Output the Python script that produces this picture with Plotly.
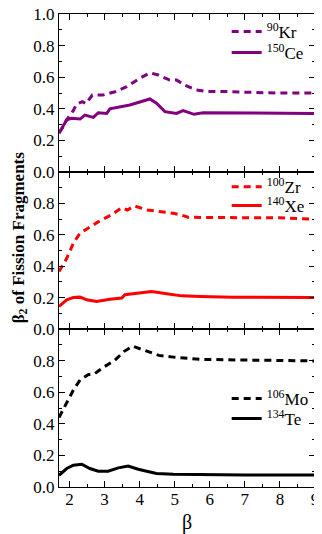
import plotly.graph_objects as go

# ---- data ----
kr_x = [1.7, 1.8, 1.92, 2.0, 2.11, 2.2, 2.37, 2.47, 2.65, 2.95, 3.3, 3.63, 4.0, 4.3, 4.53, 4.86, 5.05, 5.3, 5.6, 5.9, 6.5, 7.0, 8.0, 9.0]
kr_y = [0.25, 0.28, 0.33, 0.355, 0.39, 0.43, 0.445, 0.432, 0.487, 0.487, 0.508, 0.54, 0.593, 0.628, 0.614, 0.582, 0.582, 0.548, 0.52, 0.51, 0.51, 0.505, 0.50, 0.50]
ce_x = [1.7, 1.8, 1.92, 2.06, 2.3, 2.44, 2.68, 2.82, 3.06, 3.15, 3.44, 3.72, 4.29, 4.48, 4.72, 5.05, 5.24, 5.55, 5.81, 7.0, 9.0]
ce_y = [0.245, 0.28, 0.33, 0.34, 0.335, 0.36, 0.346, 0.375, 0.37, 0.40, 0.41, 0.424, 0.462, 0.435, 0.382, 0.371, 0.388, 0.365, 0.375, 0.372, 0.37]
zr_x = [1.7, 1.92, 2.11, 2.3, 2.55, 2.87, 3.22, 3.48, 3.65, 3.85, 4.22, 4.6, 4.96, 5.2, 5.38, 6.0, 7.0, 8.0, 9.0]
zr_y = [0.366, 0.45, 0.547, 0.61, 0.645, 0.69, 0.73, 0.772, 0.758, 0.784, 0.758, 0.748, 0.737, 0.725, 0.712, 0.71, 0.71, 0.708, 0.70]
xe_x = [1.7, 1.92, 2.11, 2.3, 2.49, 2.77, 3.15, 3.49, 3.58, 4.01, 4.34, 4.77, 5.2, 5.72, 6.66, 9.0]
xe_y = [0.144, 0.186, 0.2, 0.203, 0.186, 0.176, 0.19, 0.197, 0.218, 0.229, 0.239, 0.224, 0.211, 0.207, 0.203, 0.2]
mo_x = [1.7, 1.92, 2.11, 2.3, 2.54, 2.7, 2.96, 3.28, 3.55, 3.8, 4.2, 4.55, 4.96, 5.32, 5.72, 6.5, 7.5, 9.0]
mo_y = [0.44, 0.53, 0.614, 0.677, 0.712, 0.714, 0.757, 0.8, 0.857, 0.891, 0.86, 0.833, 0.822, 0.815, 0.808, 0.805, 0.802, 0.798]
te_x = [1.7, 1.92, 2.11, 2.35, 2.58, 2.82, 3.1, 3.39, 3.67, 3.96, 4.2, 4.48, 4.96, 5.72, 7.0, 9.0]
te_y = [0.074, 0.117, 0.138, 0.144, 0.117, 0.1, 0.1, 0.121, 0.133, 0.112, 0.1, 0.085, 0.081, 0.079, 0.076, 0.076]

x_ticks = [2, 3, 4, 5, 6, 7, 8, 9]
y_ticks_top = [0.0, 0.2, 0.4, 0.6, 0.8, 1.0]
y_ticks_low = [0.0, 0.2, 0.4, 0.6, 0.8]

PURPLE = "#800080"
RED = "#FF0000"
BLACK = "#000000"
FONT = "Times New Roman, Liberation Serif, serif"
DASH = "7px,5px"

series = [
    ("<sup>90</sup>Kr", kr_x, kr_y, PURPLE, DASH, "x", "y", "legend"),
    ("<sup>150</sup>Ce", ce_x, ce_y, PURPLE, "solid", "x", "y", "legend2"),
    ("<sup>100</sup>Zr", zr_x, zr_y, RED, DASH, "x2", "y2", "legend3"),
    ("<sup>140</sup>Xe", xe_x, xe_y, RED, "solid", "x2", "y2", "legend4"),
    ("<sup>106</sup>Mo", mo_x, mo_y, BLACK, DASH, "x3", "y3", "legend5"),
    ("<sup>134</sup>Te", te_x, te_y, BLACK, "solid", "x3", "y3", "legend6"),
]

fig = go.Figure()
for name, xs, ys, col, dash, xa, ya, lg in series:
    fig.add_trace(go.Scatter(x=xs, y=ys, mode="lines", name=name, showlegend=True,
                             line=dict(color=col, width=3, dash=dash),
                             xaxis=xa, yaxis=ya, legend=lg))

H = 473.0
dom3 = [0, 158 / H]
dom2 = [158 / H, 315 / H]
dom1 = [315 / H, 1]

def xax(anchor, show_labels):
    return dict(range=[1.7, 9.0], domain=[0, 1], anchor=anchor, showgrid=False, zeroline=False,
                showline=True, linecolor="black", linewidth=1, mirror="ticks",
                ticks="inside", ticklen=6, tickcolor="black", tickwidth=1,
                tickvals=x_ticks, showticklabels=show_labels, ticklabelstandoff=-3,
                ticklabeloverflow="allow",
                minor=dict(ticks="inside", dtick=0.5, tick0=0, ticklen=3, tickcolor="black"),
                tickfont=dict(family=FONT, size=17, color="black"))

def yax(anchor, dom, vals):
    return dict(range=[0, 1.0], domain=dom, anchor=anchor, showgrid=False, zeroline=False,
                showline=True, linecolor="black", linewidth=1, mirror="ticks",
                ticks="inside", ticklen=6, tickcolor="black", tickwidth=1,
                tickvals=vals, ticktext=[f"{v:.1f}" for v in vals],
                ticklabeloverflow="allow",
                minor=dict(ticks="inside", dtick=0.1, tick0=0, ticklen=3, tickcolor="black"),
                tickfont=dict(family=FONT, size=17, color="black"))

def leg(y):
    return dict(x=0.655, xanchor="left", y=y, yanchor="middle", bgcolor="rgba(0,0,0,0)",
                font=dict(family=FONT, size=17, color="black"), itemwidth=30, visible=True)

# page body has an 8px margin: figure is shrunk by 8px so it ends at the window edge
fig.update_layout(
    width=314, height=526,
    margin=dict(l=51, r=7, t=6, b=47, autoexpand=False),
    paper_bgcolor="white", plot_bgcolor="white",
    showlegend=True,
    xaxis=xax("y", False),
    xaxis2=xax("y2", False),
    xaxis3=dict(xax("y3", True), title=dict(text="β", font=dict(family=FONT, size=20, color="black"), standoff=10)),
    yaxis=yax("x", dom1, y_ticks_top),
    yaxis2=yax("x2", dom2, y_ticks_low),
    yaxis3=yax("x3", dom3, y_ticks_low),
    legend=leg(0.962), legend2=leg(0.9175),
    legend3=leg(0.634), legend4=leg(0.594),
    legend5=leg(0.186), legend6=leg(0.144),
    annotations=[dict(text="<b>β<sub>2</sub> of Fission Fragments</b>", textangle=-90,
                      x=-0.152, xanchor="center", y=0.528, yanchor="middle",
                      xref="paper", yref="paper", showarrow=False,
                      font=dict(family=FONT, size=17, color="black"))],
)

fig.write_html("out.html")
